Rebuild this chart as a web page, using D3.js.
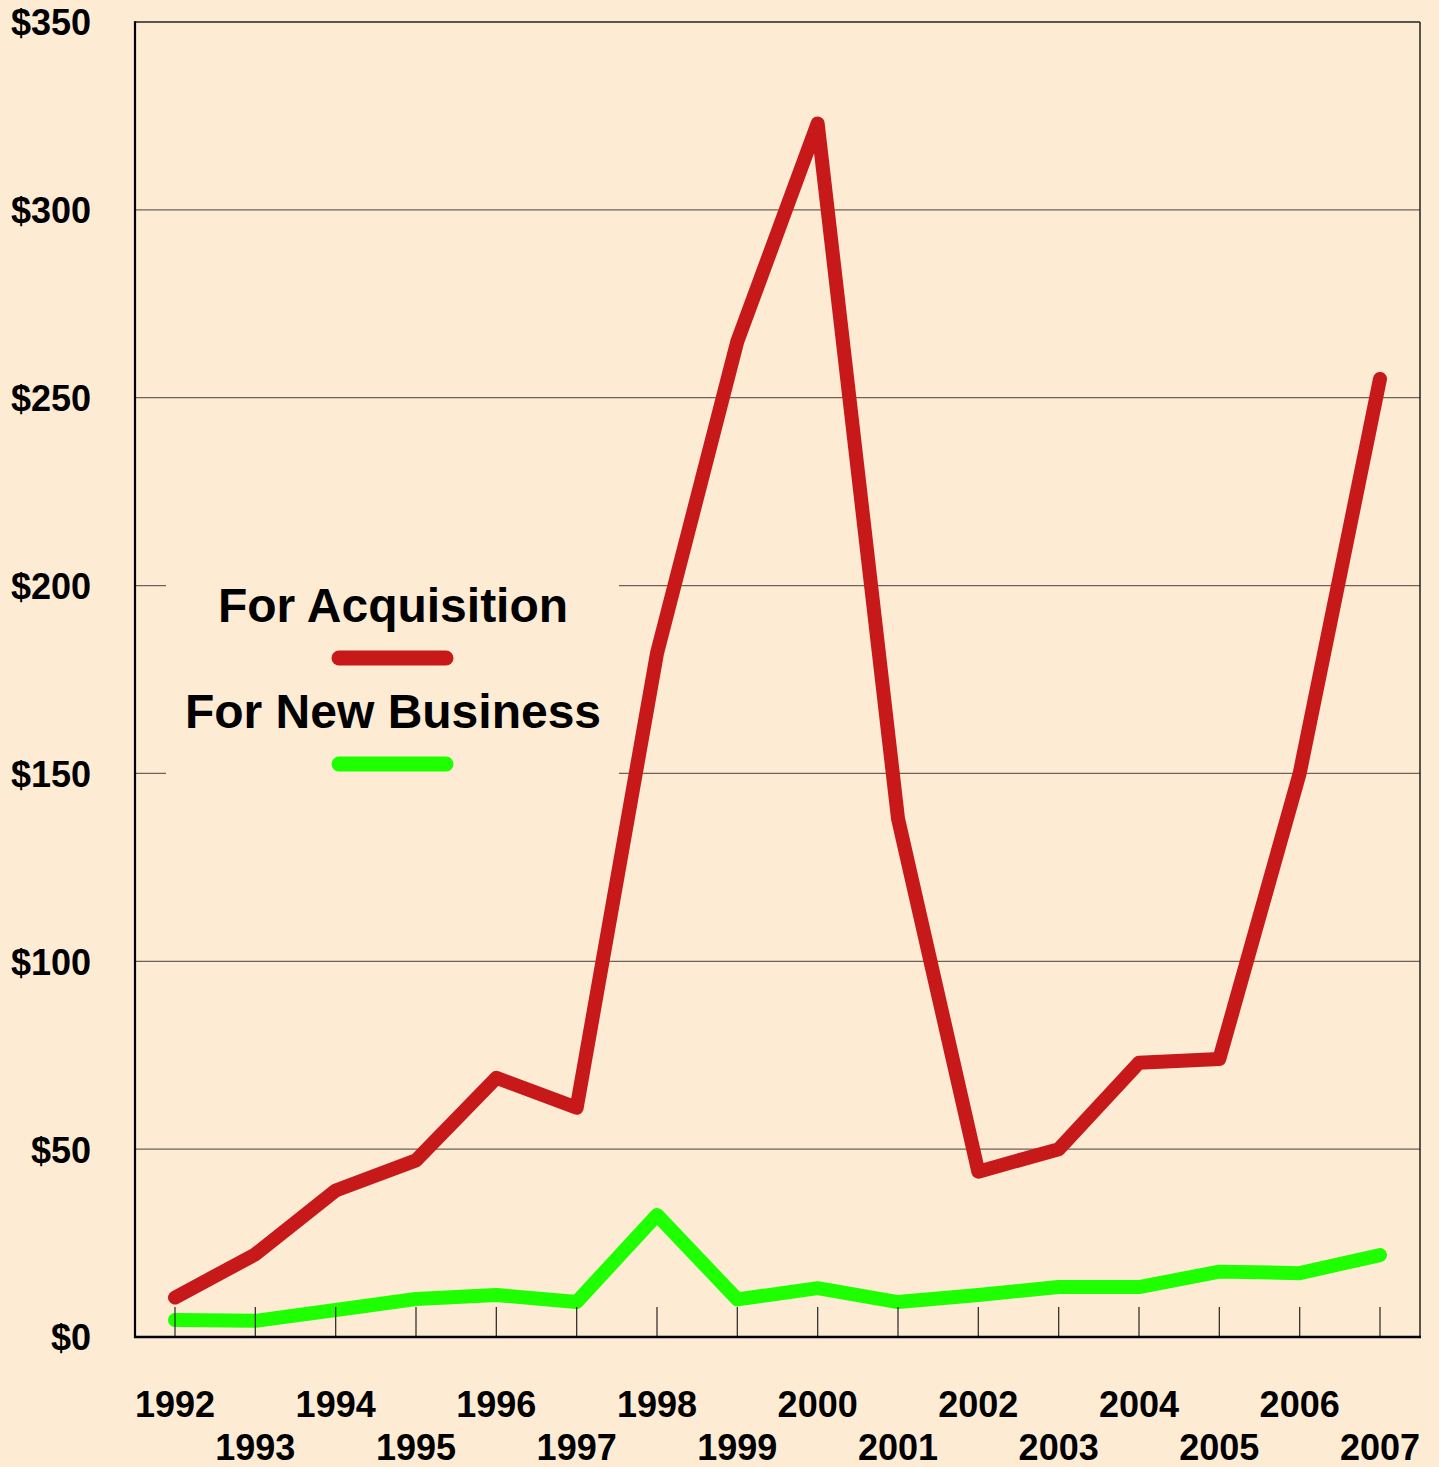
<!DOCTYPE html>
<html>
<head>
<meta charset="utf-8">
<script src="https://cdn.jsdelivr.net/npm/d3@7"></script>
<style>
html,body{margin:0;padding:0;background:#FDEBD3;}
svg{display:block;}
text{font-family:"Liberation Sans",Arial,sans-serif;font-weight:bold;fill:#000;}
</style>
</head>
<body>
<svg id="chart" width="1439" height="1467"></svg>
<script>
const years = [1992,1993,1994,1995,1996,1997,1998,1999,2000,2001,2002,2003,2004,2005,2006,2007];
const acquisition = [10.5,22,39,47,69,61,182,265,323,138,44,50,73,74,150,255];
const newBusiness = [4.5,4.3,7.2,10.1,11.2,9.3,32.5,10,13,9.3,11.2,13.3,13.3,17.4,17,21.8];
const yTicks = [0,50,100,150,200,250,300,350];
const seriesNames = ["For Acquisition","For New Business"];
const seriesColors = ["#C8191A","#1EFF00"];

const W = 1439, H = 1467;
const L = 135, R = 1420, T = 22, B = 1337;
const svg = d3.select("#chart");
svg.append("rect").attr("width",W).attr("height",H).attr("fill","#FDEBD3");

const x = d3.scaleLinear().domain([1992,2007]).range([175,1380]);
const y = d3.scaleLinear().domain([0,350]).range([B,T]);

// gridlines
svg.append("g").selectAll("line").data(yTicks.filter(d=>d>0 && d<350)).join("line")
  .attr("x1",L).attr("x2",R).attr("y1",d=>y(d)).attr("y2",d=>y(d))
  .attr("stroke","#6b625a").attr("stroke-width",1.2);

// legend background
svg.append("rect").attr("x",166).attr("y",566).attr("width",453).attr("height",220).attr("fill","#FDEBD3");

// frame
svg.append("line").attr("x1",L).attr("x2",R).attr("y1",T).attr("y2",T).attr("stroke","#222").attr("stroke-width",1.5);
svg.append("line").attr("x1",R).attr("x2",R).attr("y1",T).attr("y2",B).attr("stroke","#222").attr("stroke-width",1.5);
svg.append("line").attr("x1",L).attr("x2",L).attr("y1",T-0.75).attr("y2",B+1).attr("stroke","#000").attr("stroke-width",2.2);

// y axis labels
const yAxis = d3.axisLeft(y).tickValues(yTicks).tickSize(0).tickPadding(44).tickFormat(d=>"$"+d);
const yg = svg.append("g").attr("transform",`translate(${L},0)`).call(yAxis);
yg.select(".domain").remove();
yg.selectAll("text").attr("font-size",36).attr("font-weight","bold")
  .attr("font-family","'Liberation Sans',Arial,sans-serif").attr("fill","#000").attr("dy","0.36em");

// lines
const line = d3.line().x((d,i)=>x(years[i])).y(d=>y(d));
[acquisition,newBusiness].forEach((s,k)=>{
  svg.append("path").datum(s).attr("d",line).attr("fill","none")
    .attr("stroke",seriesColors[k]).attr("stroke-width",14)
    .attr("stroke-linecap","round").attr("stroke-linejoin","round");
});

// x ticks
svg.append("g").selectAll("line").data(years).join("line")
  .attr("x1",d=>x(d)).attr("x2",d=>x(d)).attr("y1",B-30).attr("y2",B)
  .attr("stroke","#333").attr("stroke-width",1.3);
// bottom axis
svg.append("line").attr("x1",L-1).attr("x2",R+1).attr("y1",B).attr("y2",B).attr("stroke","#000").attr("stroke-width",2.5);

// x labels
svg.append("g").selectAll("text").data(years).join("text")
  .attr("x",d=>x(d)).attr("y",(d,i)=>i%2===0?1417:1460)
  .attr("text-anchor","middle").attr("font-size",36).text(d=>d);

// legend
const leg = [{t:seriesNames[0],ty:622,ly:658},{t:seriesNames[1],ty:728,ly:764}];
leg.forEach((l,k)=>{
  svg.append("text").attr("x",393).attr("y",l.ty).attr("text-anchor","middle").attr("font-size",48).text(l.t);
  svg.append("line").attr("x1",339).attr("x2",446).attr("y1",l.ly).attr("y2",l.ly)
    .attr("stroke",seriesColors[k]).attr("stroke-width",15).attr("stroke-linecap","round");
});
</script>
</body>
</html>
